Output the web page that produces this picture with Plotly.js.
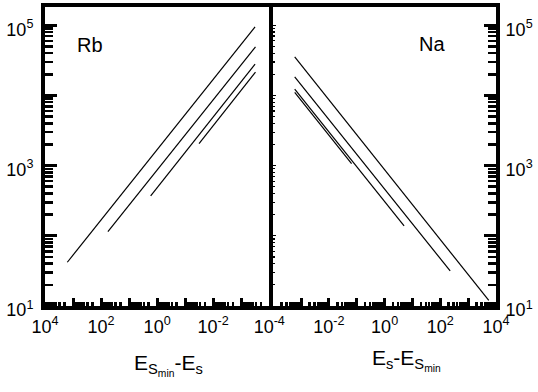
<!DOCTYPE html>
<html>
<head>
<meta charset="utf-8">
<script src="https://cdn.plot.ly/plotly-3.0.1.min.js"></script>
<style>html,body{margin:0;padding:0;background:#fff;}#chart{width:538px;height:392px;}</style>
</head>
<body>
<div id="chart"></div>
<script>
// ---- data ----
var rbX1 = [1600, 3.2e-4], rbY1 = [42, 95000];
var rbX2 = [57, 3.1e-4],   rbY2 = [115, 49000];
var rbX3 = [1.7, 3.2e-4],  rbY3 = [370, 28000];
var rbX4 = [0.032, 3.1e-4], rbY4 = [2050, 21500];

var naX1 = [5.9e-4, 5500],  naY1 = [35500, 12];
var naX2 = [5.9e-4, 226],   naY2 = [18400, 31.6];
var naX3 = [5.9e-4, 5.0],   naY3 = [12300, 138];
var naX4 = [5.9e-4, 0.065], naY4 = [11000, 1070];

// labelled decades
var xTickValsLeft  = [1e4, 1e2, 1e0, 1e-2, 1e-4];
var xTickTextLeft  = ['10<sup>4</sup>', '10<sup>2</sup>', '10<sup>0</sup>', '10<sup>-2</sup>', '10<sup>-4</sup>'];
var xTickValsRight = [1e-2, 1e0, 1e2, 1e4];
var xTickTextRight = ['10<sup>-2</sup>', '10<sup>0</sup>', '10<sup>2</sup>', '10<sup>4</sup>'];
var yTickVals = [1e1, 1e3, 1e5];
var yTickText = ['10<sup>1</sup>', '10<sup>3</sup>', '10<sup>5</sup>'];
// unlabelled decades
var xOddDecades = [1e-3, 1e-1, 1e1, 1e3];
var yOddDecades = [1e2, 1e4];
var yAllDecades = [1e1, 1e2, 1e3, 1e4, 1e5];

var panelLabels = ['Rb', 'Na'];
var xTitleLeft  = 'E<sub>S<sub>min</sub></sub>-E<sub>s</sub>';
var xTitleRight = 'E<sub>s</sub>-E<sub>S<sub>min</sub></sub>';

// minor tick positions (2..9 per decade)
function minorVals(lo, hi) {
  var out = [];
  for (var e = lo; e < hi; e++) for (var m = 2; m <= 9; m++) out.push(m * Math.pow(10, e));
  return out;
}
var xMinor = minorVals(-4, 4);
var yMinor = minorVals(1, 5);

var FONT = 'Liberation Sans, Arial, sans-serif';
var lineStyle = {color: '#000', width: 1.2};

function tr(x, y, xa, ya) {
  return {x: x, y: y, xaxis: xa, yaxis: ya, mode: 'lines', line: lineStyle, hoverinfo: 'skip', showlegend: false};
}

var data = [
  tr(rbX1, rbY1, 'x', 'y'), tr(rbX2, rbY2, 'x', 'y'), tr(rbX3, rbY3, 'x', 'y'), tr(rbX4, rbY4, 'x', 'y'),
  tr(naX1, naY1, 'x2', 'y2'), tr(naX2, naY2, 'x2', 'y2'), tr(naX3, naY3, 'x2', 'y2'), tr(naX4, naY4, 'x2', 'y2'),
  tr([], [], 'x2', 'y3'), tr([], [], 'x3', 'y'), tr([], [], 'x4', 'y2'), tr([], [], 'x', 'y4'), tr([], [], 'x2', 'y5')
];

var W = 538, H = 392;
var mL = 44.5, mR = 42, mT = 7, mB = 86;
var pw = W - mL - mR, ph = H - mT - mB;
function px2x(px) { return (px - mL) / pw; }
function py2y(py) { return (H - mB - py) / ph; }

var LW = 4;
var yRange = [1, 1 + (H - mB - mT) / 70.2];
var domL = [0, px2x(269)], domR = [px2x(273), 1];

var tickFont = {family: FONT, size: 18, color: '#000'};

var baseX = {
  type: 'log', showline: true, linecolor: '#000', linewidth: LW, mirror: true,
  ticks: 'inside', ticklen: 8, tickwidth: 3, tickcolor: '#000',
  tickmode: 'array', showgrid: false, zeroline: false,
  tickfont: tickFont, ticklabelstandoff: 1,
  minor: {tickmode: 'array', tickvals: xMinor, ticks: 'inside', ticklen: 4, tickwidth: 2.5, tickcolor: '#000', showgrid: false}
};
var baseY = {
  type: 'log', showline: true, linecolor: '#000', linewidth: LW,
  ticks: 'inside', ticklen: 12, tickwidth: 3, tickcolor: '#000',
  tickmode: 'array', tickvals: yTickVals, ticktext: yTickText,
  showgrid: false, zeroline: false, range: yRange,
  tickfont: tickFont, ticklabelshift: 4,
  minor: {tickmode: 'array', tickvals: yMinor, ticks: 'inside', ticklen: 8, tickwidth: 2.5, tickcolor: '#000', showgrid: false}
};
function tickOnly(extra) {
  return Object.assign({type: 'log', showline: false, showgrid: false, zeroline: false, showticklabels: false,
    tickmode: 'array', tickcolor: '#000', ticks: 'inside'}, extra);
}

var layout = {
  width: W, height: H,
  margin: {l: mL, r: mR, t: mT, b: mB, pad: 0},
  paper_bgcolor: '#fff', plot_bgcolor: '#fff',
  font: {family: FONT, color: '#000'},
  showlegend: false,
  xaxis: Object.assign({}, baseX, {domain: domL, range: [4, -4], anchor: 'y',
    tickvals: xTickValsLeft, ticktext: xTickTextLeft}),
  yaxis: Object.assign({}, baseY, {anchor: 'x', side: 'left', mirror: true, ticklabelstandoff: 4}),
  xaxis2: Object.assign({}, baseX, {domain: domR, range: [-4, 4], anchor: 'y2',
    tickvals: xTickValsRight, ticktext: xTickTextRight}),
  yaxis2: Object.assign({}, baseY, {anchor: 'x2', side: 'right', mirror: false, ticklabelstandoff: 2}),
  // small ticks on the shared middle line (right panel, left side)
  yaxis3: tickOnly({overlaying: 'y2', anchor: 'x2', side: 'left', range: yRange,
    ticklen: 3, tickwidth: 1.2, tickvals: yAllDecades,
    minor: {tickmode: 'array', tickvals: yMinor, ticks: 'inside', ticklen: 2, tickwidth: 1.2, tickcolor: '#000', showgrid: false}}),
  // unlabelled decade ticks
  xaxis3: tickOnly({overlaying: 'x', anchor: 'y', side: 'bottom', range: [4, -4], ticklen: 8, tickwidth: 3, tickvals: xOddDecades}),
  xaxis4: tickOnly({overlaying: 'x2', anchor: 'y2', side: 'bottom', range: [-4, 4], ticklen: 8, tickwidth: 3, tickvals: xOddDecades}),
  yaxis4: tickOnly({overlaying: 'y', anchor: 'x', side: 'left', range: yRange, ticklen: 12, tickwidth: 3, tickvals: yOddDecades}),
  yaxis5: tickOnly({overlaying: 'y2', anchor: 'x2', side: 'right', range: yRange, ticklen: 12, tickwidth: 3, tickvals: yOddDecades}),
  annotations: [
    {text: panelLabels[0], xref: 'paper', yref: 'paper', x: px2x(90), y: py2y(45), xanchor: 'center', yanchor: 'middle',
     showarrow: false, font: {family: FONT, size: 20, color: '#000'}},
    {text: panelLabels[1], xref: 'paper', yref: 'paper', x: px2x(432), y: py2y(44), xanchor: 'center', yanchor: 'middle',
     showarrow: false, font: {family: FONT, size: 20, color: '#000'}},
    {text: xTitleLeft, xref: 'paper', yref: 'paper', x: px2x(132), y: py2y(349), xanchor: 'left', yanchor: 'top',
     showarrow: false, font: {family: FONT, size: 21, color: '#000'}},
    {text: xTitleRight, xref: 'paper', yref: 'paper', x: px2x(370), y: py2y(344), xanchor: 'left', yanchor: 'top',
     showarrow: false, font: {family: FONT, size: 21, color: '#000'}}
  ]
};

Plotly.newPlot('chart', data, layout, {staticPlot: true, displayModeBar: false});
</script>
</body>
</html>
